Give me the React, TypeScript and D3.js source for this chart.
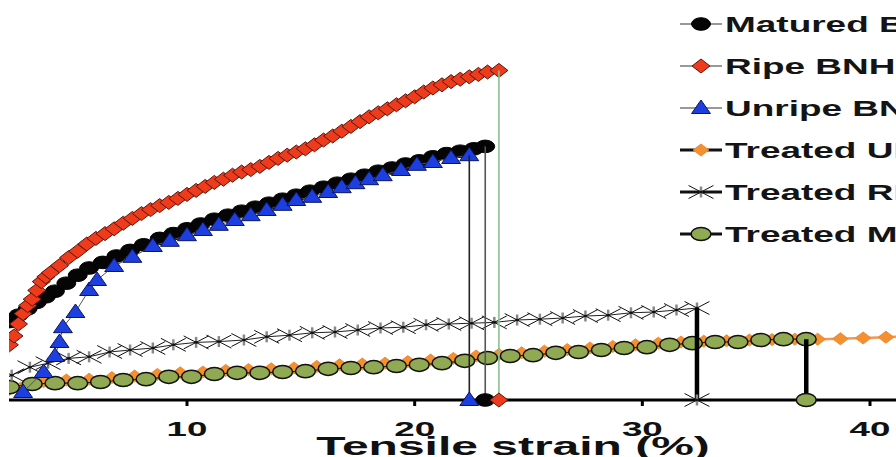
import React from 'react'
import * as d3 from 'd3'

const W = 896
const H = 457
const SX = 1.5 // the source picture is stretched sideways, markers follow it
const FONT = '"Liberation Sans", Arial, Helvetica, sans-serif'

// strain (%), stress
const matured: [number, number][] = [
  [2.2, 9.8], [2.6, 10.6], [3.0, 11.4], [3.4, 12.2], [3.8, 12.9], [4.2, 13.6], [4.7, 14.6],
  [5.2, 15.6], [5.7, 16.5], [6.3, 17.2], [6.9, 18.0], [7.5, 18.7], [8.1, 19.4], [8.8, 20.2],
  [9.4, 20.8], [10.0, 21.4], [10.6, 22.0], [11.2, 22.6], [11.8, 23.1], [12.4, 23.6], [13.0, 24.1],
  [13.6, 24.6], [14.2, 25.1], [14.8, 25.6], [15.4, 26.1], [16.0, 26.6], [16.6, 27.1], [17.2, 27.6],
  [17.8, 28.1], [18.4, 28.6], [19.0, 29.0], [19.6, 29.5], [20.2, 29.9], [20.8, 30.4], [21.4, 30.8],
  [22.0, 31.1], [22.6, 31.4], [23.1, 31.7],
]

const ripe: [number, number][] = [
  [2.2, 6.9], [2.4, 8.0], [2.6, 9.5], [2.8, 10.8], [3.0, 11.8], [3.2, 12.6], [3.4, 13.7],
  [3.6, 14.8], [3.8, 15.4], [4.0, 15.9], [4.4, 16.8], [4.8, 17.8], [5.2, 18.6], [5.6, 19.5],
  [6.0, 20.2], [6.4, 20.8], [6.8, 21.4], [7.2, 22.1], [7.6, 22.7], [8.0, 23.3], [8.4, 23.8],
  [8.8, 24.3], [9.2, 24.7], [9.6, 25.2], [10.0, 25.7], [10.4, 26.2], [10.8, 26.7], [11.2, 27.2],
  [11.6, 27.6], [12.0, 28.1], [12.4, 28.5], [12.8, 28.8], [13.2, 29.2], [13.6, 29.7], [14.0, 30.2],
  [14.4, 30.6], [14.8, 31.0], [15.2, 31.4], [15.6, 31.9], [16.0, 32.5], [16.4, 33.0], [16.8, 33.6],
  [17.2, 34.2], [17.6, 34.8], [18.0, 35.4], [18.4, 35.9], [18.8, 36.4], [19.2, 36.9], [19.6, 37.4],
  [20.0, 37.9], [20.4, 38.5], [20.8, 39.0], [21.2, 39.4], [21.6, 39.8], [22.0, 40.1], [22.4, 40.4],
  [22.8, 40.7], [23.2, 41.0], [23.7, 41.2],
]

const unripe: [number, number][] = [
  [2.8, 1.0], [3.7, 3.5], [4.2, 5.5], [4.4, 7.25], [4.55, 9.1], [5.1, 11.0], [5.7, 13.75],
  [6.05, 15.0], [6.8, 16.75], [7.6, 17.9], [8.5, 19.25], [9.25, 19.9], [10.0, 20.6], [10.7, 21.25],
  [11.4, 21.9], [12.1, 22.5], [12.8, 23.1], [13.5, 23.75], [14.2, 24.4], [14.8, 25.0], [15.5, 25.4],
  [16.2, 26.0], [16.8, 26.6], [17.4, 27.1], [18.0, 27.6], [18.6, 28.1], [19.4, 28.75], [20.1, 29.4],
  [20.8, 29.75], [21.6, 30.25], [22.4, 30.6],
]

const treatedU: [number, number][] = [
  [2.0, 0.9], [2.7, 1.5], [3.7, 2.3], [4.7, 2.5], [5.7, 2.6], [6.7, 2.8], [7.7, 3.0], [8.7, 3.2],
  [9.7, 3.4], [10.7, 3.5], [11.7, 3.7], [12.7, 3.8], [13.7, 3.9], [14.7, 4.0], [15.7, 4.2],
  [16.7, 4.4], [17.7, 4.5], [18.7, 4.6], [19.7, 4.8], [20.7, 5.0], [21.7, 5.2], [22.7, 5.5],
  [23.7, 5.7], [24.7, 5.9], [25.7, 6.1], [26.7, 6.3], [27.7, 6.5], [28.7, 6.7], [29.7, 6.9],
  [30.7, 7.1], [31.7, 7.25], [32.7, 7.35], [33.7, 7.4], [34.7, 7.5], [35.7, 7.55], [36.7, 7.6],
  [37.7, 7.6], [38.7, 7.65], [39.7, 7.75], [40.7, 7.85], [41.7, 7.95],
]

const treatedR: [number, number][] = [
  [2.3, 3.1], [3.1, 4.1], [3.9, 4.6], [4.8, 5.2], [5.7, 5.4], [6.6, 6.0], [7.5, 6.25], [8.5, 6.5],
  [9.4, 6.9], [10.4, 7.2], [11.4, 7.3], [12.5, 7.5], [13.5, 7.9], [14.5, 8.1], [15.5, 8.4],
  [16.5, 8.5], [17.5, 8.75], [18.5, 9.0], [19.5, 9.1], [20.5, 9.4], [21.5, 9.5], [22.5, 9.6],
  [23.5, 9.7], [24.5, 10.0], [25.5, 10.1], [26.5, 10.25], [27.5, 10.5], [28.5, 10.6], [29.5, 10.9],
  [30.5, 11.0], [31.5, 11.25], [32.4, 11.5],
]

const treatedM: [number, number][] = [
  [2.2, 1.6], [3.2, 2.0], [4.2, 2.1], [5.2, 2.1], [6.2, 2.25], [7.2, 2.5], [8.2, 2.6], [9.2, 2.9],
  [10.2, 2.9], [11.2, 3.25], [12.2, 3.4], [13.2, 3.4], [14.2, 3.5], [15.2, 3.6], [16.2, 3.9],
  [17.2, 4.0], [18.2, 4.1], [19.2, 4.25], [20.2, 4.4], [21.2, 4.6], [22.2, 4.9], [23.2, 5.25],
  [24.2, 5.5], [25.2, 5.6], [26.2, 5.9], [27.2, 6.0], [28.2, 6.25], [29.2, 6.5], [30.2, 6.6],
  [31.2, 6.9], [32.2, 7.1], [33.2, 7.25], [34.2, 7.25], [35.2, 7.5], [36.2, 7.6], [37.2, 7.6],
]

const xTicks = [10, 20, 30, 40]
const legendLabels = ['Matured BNHF', 'Ripe BNHF', 'Unripe BNHF', 'Treated UBNHF', 'Treated RBNHF', 'Treated MBNHF']

type Kind = 'circle' | 'diamond' | 'triangle' | 'odiamond' | 'star' | 'green'

function Marker({ kind, x, y }: { kind: Kind; x: number; y: number }) {
  const t = `translate(${x},${y}) scale(${SX},1)`
  const ns = { vectorEffect: 'non-scaling-stroke' as const }
  if (kind === 'circle')
    return <g transform={t}><circle r={6.3} fill="#050505" stroke="#000" strokeWidth={1} {...ns} /></g>
  if (kind === 'green')
    return <g transform={t}><circle r={6.6} fill="#8faa52" stroke="#111" strokeWidth={1.5} {...ns} /></g>
  if (kind === 'diamond')
    return <g transform={t}><path d="M0,-7L6,0L0,7L-6,0Z" fill="#ee3b1c" stroke="#5a150a" strokeWidth={1} {...ns} /></g>
  if (kind === 'odiamond')
    return <g transform={t}><path d="M0,-6L5.2,0L0,6L-5.2,0Z" fill="#f5902e" stroke="#ea8a3a" strokeWidth={1} {...ns} /></g>
  if (kind === 'triangle')
    return <g transform={t}><path d="M0,-8L6.3,5.5L-6.3,5.5Z" fill="#1d3fe0" stroke="#0b1560" strokeWidth={1} {...ns} /></g>
  return (
    <g transform={t}>
      <path d="M-8.3,-6.5L8.3,6.5M-8.3,6.5L8.3,-6.5" stroke="#111" strokeWidth={1} fill="none" {...ns} />
      <path d="M0,-5.5V5.5" stroke="#888" strokeWidth={2.5} {...ns} />
      <circle r={1.3} fill="#111" />
    </g>
  )
}

export default function App() {
  const x = d3.scaleLinear().domain([10, 40]).range([187, 870])
  const y = d3.scaleLinear().domain([0, 50]).range([400, 0])
  const line = d3.line<[number, number]>().x((d) => x(d[0])).y((d) => y(d[1]))

  const series = [
    { data: treatedU, kind: 'odiamond' as Kind, stroke: '#ec9a5a', width: 2.5, drop: null },
    { data: treatedM, kind: 'green' as Kind, stroke: '#222', width: 1.2, drop: { color: '#000', width: 4.5 } },
    { data: treatedR, kind: 'star' as Kind, stroke: '#222', width: 1, drop: { color: '#000', width: 4.5 } },
    { data: matured, kind: 'circle' as Kind, stroke: '#000', width: 1, drop: { color: '#555', width: 1.6 } },
    { data: unripe, kind: 'triangle' as Kind, stroke: '#555', width: 1, drop: { color: '#222', width: 1.6 } },
    { data: ripe, kind: 'diamond' as Kind, stroke: '#666', width: 1, drop: { color: '#8cc08c', width: 1.6 } },
  ]

  const legendKinds: Kind[] = ['circle', 'diamond', 'triangle', 'odiamond', 'star', 'green']
  const y0 = y(0)

  return (
    <svg width={W} height={H} style={{ position: 'absolute', left: 0, top: 0, background: '#fff' }}>
      <defs>
        <clipPath id="plot">
          <rect x={9} y={0} width={W} height={H} />
        </clipPath>
      </defs>

      <g clipPath="url(#plot)">
        {series.map((s, i) => (
          <g key={i}>
            <path d={line(s.data) || ''} fill="none" stroke={s.stroke} strokeWidth={s.width} />
            {s.data.map((d, j) => (
              <Marker key={j} kind={s.kind} x={x(d[0])} y={y(d[1])} />
            ))}
          </g>
        ))}

        {series.filter((s) => s.drop).map((s, i) => {
          const last = s.data[s.data.length - 1]
          return (
            <line key={i} x1={x(last[0])} x2={x(last[0])} y1={y(last[1])} y2={y0}
              stroke={s.drop!.color} strokeWidth={s.drop!.width} />
          )
        })}
      </g>

      {/* x axis */}
      <line x1={9} x2={W} y1={y0} y2={y0} stroke="#000" strokeWidth={3} />
      {xTicks.map((t) => (
        <g key={t}>
          <line x1={x(t)} x2={x(t)} y1={y0} y2={y0 + 6} stroke="#000" strokeWidth={3} />
          <text transform={`translate(${x(t)},436) scale(1.75,1)`} textAnchor="middle"
            fontFamily={FONT} fontWeight="bold" fontSize={21} fill="#111">{t}</text>
        </g>
      ))}

      {series.filter((s) => s.drop).map((s, i) => {
        const last = s.data[s.data.length - 1]
        return <Marker key={i} kind={s.kind} x={x(last[0])} y={y0} />
      })}

      <text transform={`translate(513,455) scale(1.92,1)`} textAnchor="middle"
        fontFamily={FONT} fontWeight="bold" fontSize={25} fill="#111">Tensile strain (%)</text>

      {/* legend */}
      {legendLabels.map((label, i) => {
        const cy = 24 + i * 42
        const treated = i >= 3
        return (
          <g key={label}>
            <line x1={680} x2={722} y1={cy} y2={cy} stroke={treated ? '#111' : '#777'} strokeWidth={treated ? 3 : 1.5} />
            <Marker kind={legendKinds[i]} x={701} y={cy} />
            <text transform={`translate(725,${cy + 8}) scale(1.68,1)`} fontFamily={FONT}
              fontWeight="bold" fontSize={22} fill="#141414">{label}</text>
          </g>
        )
      })}
    </svg>
  )
}
